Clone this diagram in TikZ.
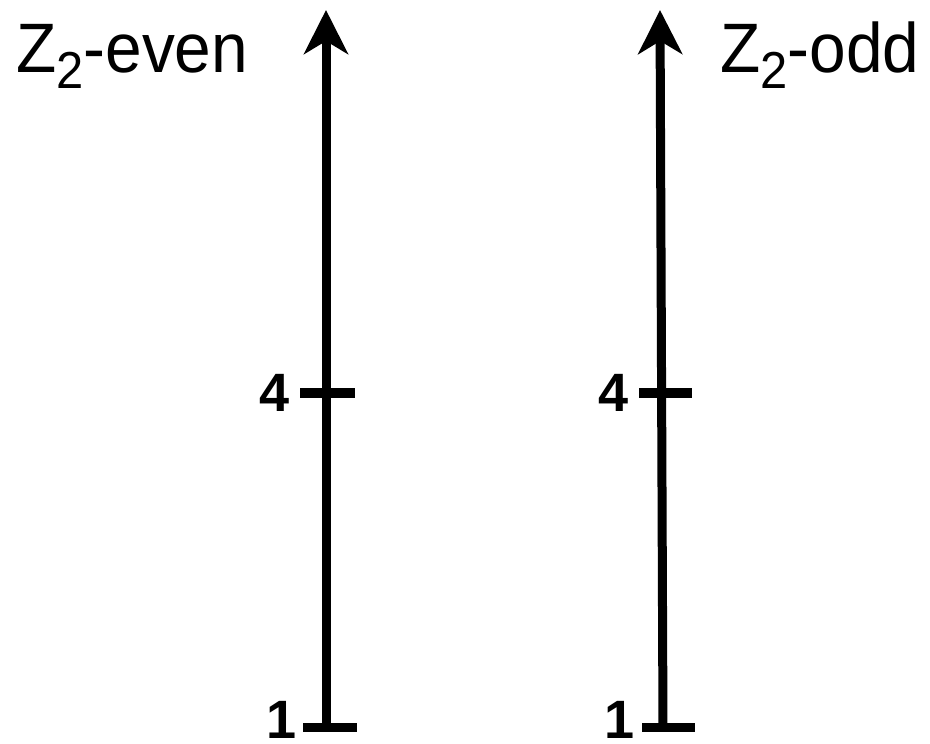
\documentclass[tikz,border=0pt]{standalone}
\usepackage{fontspec}
\setmainfont{Liberation Sans}
\usetikzlibrary{arrows.meta}
\newcommand{\ztwo}[1]{\scalebox{0.94}[1]{Z\raisebox{-16pt}{\fontsize{52}{52}\selectfont 2}-#1}}
\begin{document}
\begin{tikzpicture}[x=1pt,y=-1pt,
  axis/.style={line width=9pt,-{Stealth[length=44pt,width=44pt,inset=13pt]}},
  tickmark/.style={line width=9.5pt},
  num/.style={font=\fontsize{54}{54}\selectfont\bfseries, inner sep=0pt},
  title/.style={font=\fontsize{70}{70}\selectfont, inner sep=0pt, anchor=base west}]
\useasboundingbox (0,0) rectangle (930,744);
% left axis
\coordinate (Lb) at (326,727);
\coordinate (Lt) at (326,10);
\coordinate (L4w) at (300,393);
\coordinate (L4e) at (355,393);
\coordinate (L1w) at (303,727.5);
\coordinate (L1e) at (357,727.5);
\draw[axis] (Lb) -- (Lt);
\draw[tickmark] (L4w) -- (L4e);
\draw[tickmark] (L1w) -- (L1e);
\node[num] (nL4) at (275,393) {4};
\node[num] (nL1) at (282,720) {1};
\node[title] (tL) at (16,72) {\ztwo{even}};
% right axis
\coordinate (Rb) at (663,727);
\coordinate (Rt) at (660,10);
\coordinate (R4w) at (639,393);
\coordinate (R4e) at (692,393);
\coordinate (R1w) at (642,727.5);
\coordinate (R1e) at (695,727.5);
\draw[axis] (Rb) -- (Rt);
\draw[tickmark] (R4w) -- (R4e);
\draw[tickmark] (R1w) -- (R1e);
\node[num] (nR4) at (614,393) {4};
\node[num] (nR1) at (620,720) {1};
\node[title] (tR) at (720,72) {\ztwo{odd}};
\end{tikzpicture}
\end{document}
